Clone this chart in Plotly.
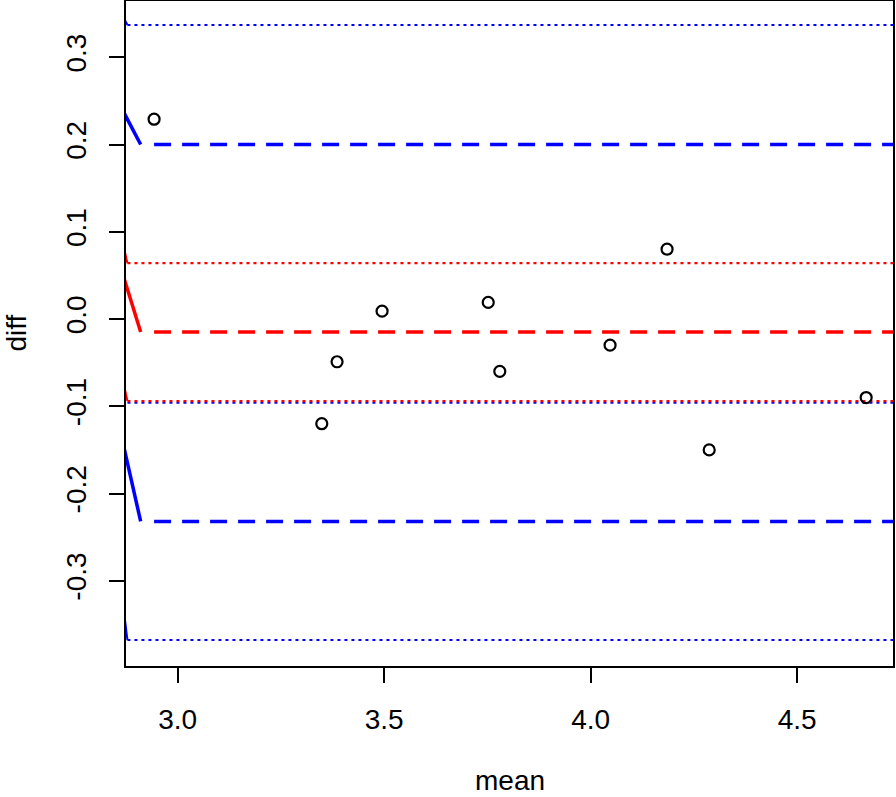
import plotly.graph_objects as go

# ---- data ----
mean_vals = [2.943, 3.349, 3.386, 3.495, 3.752, 3.780, 4.047, 4.185, 4.287, 4.667]
diff_vals = [0.229, -0.120, -0.049, 0.009, 0.019, -0.060, -0.030, 0.080, -0.150, -0.090]

# horizontal reference levels
blue_dashed_levels = [0.200, -0.232]          # limits of agreement
red_dashed_levels = [-0.015]                  # mean difference
blue_dotted_levels = [0.337, -0.096, -0.368]  # CIs of limits
red_dotted_levels = [0.064, -0.094]           # CI of mean difference

# short solid segments entering from the left (start x, start y, end x, end y)
seg_blue_x0 = [2.870, 2.870]
seg_blue_y0 = [0.2365, -0.147]
seg_blue_x1 = [2.9105, 2.9105]
seg_blue_y1 = [0.200, -0.232]
seg_red_x0 = [2.870]
seg_red_y0 = [0.047]
seg_red_x1 = [2.9105]
seg_red_y1 = [-0.015]

tiny_blue_x0 = [2.870, 2.870]
tiny_blue_y0 = [0.345, -0.335]
tiny_blue_x1 = [2.8785, 2.8785]
tiny_blue_y1 = [0.337, -0.368]
tiny_red_x0 = [2.870, 2.870]
tiny_red_y0 = [0.082, -0.075]
tiny_red_x1 = [2.8785, 2.8785]
tiny_red_y1 = [0.064, -0.094]

x_range = [2.875, 4.732]
y_range = [-0.3977, 0.3645]
x_ticks = [3.0, 3.5, 4.0, 4.5]
x_ticktext = ["3.0", "3.5", "4.0", "4.5"]
y_ticks = [-0.3, -0.2, -0.1, 0.0, 0.1, 0.2, 0.3]
y_ticktext = ["-0.3", "-0.2", "-0.1", "0.0", "0.1", "0.2", "0.3"]
x_title = "mean"
y_title = "diff"

BLUE = "#0000FF"
RED = "#FF0000"
X_END = 4.8
DOT_START = 2.8785

fig = go.Figure()

def hline(y, x0, color, dash, width):
    fig.add_trace(go.Scatter(x=[x0, X_END], y=[y, y], mode="lines",
                             line=dict(color=color, dash=dash, width=width),
                             hoverinfo="skip", showlegend=False))

for y in blue_dotted_levels:
    hline(y, DOT_START, BLUE, "3px,4px", 2)
for y in red_dotted_levels:
    hline(y, DOT_START, RED, "3px,4px", 2.2)
for y in blue_dashed_levels:
    hline(y, min(mean_vals), BLUE, "17px,11px", 3.5)
for y in red_dashed_levels:
    hline(y, min(mean_vals), RED, "17px,11px", 3.5)

def seg(x0s, y0s, x1s, y1s, color, width):
    for a, b, c, d in zip(x0s, y0s, x1s, y1s):
        fig.add_trace(go.Scatter(x=[a, c], y=[b, d], mode="lines",
                                 line=dict(color=color, width=width),
                                 hoverinfo="skip", showlegend=False))

seg(seg_blue_x0, seg_blue_y0, seg_blue_x1, seg_blue_y1, BLUE, 3.5)
seg(seg_red_x0, seg_red_y0, seg_red_x1, seg_red_y1, RED, 3.5)
seg(tiny_blue_x0, tiny_blue_y0, tiny_blue_x1, tiny_blue_y1, BLUE, 2)
seg(tiny_red_x0, tiny_red_y0, tiny_red_x1, tiny_red_y1, RED, 2)

fig.add_trace(go.Scatter(x=mean_vals, y=diff_vals, mode="markers",
                         marker=dict(symbol="circle-open", size=11, color="black",
                                     line=dict(color="black", width=2.2)),
                         showlegend=False))

FONT = "Liberation Sans, Arial, Helvetica, sans-serif"

fig.update_layout(
    width=896, height=797,
    margin=dict(l=126, r=3, t=1, b=131, autoexpand=False),
    paper_bgcolor="white", plot_bgcolor="white",
    font=dict(family=FONT, size=28, color="black"),
    xaxis=dict(range=x_range, tickvals=x_ticks, ticktext=x_ticktext,
               showgrid=False, zeroline=False, showline=True, mirror=True,
               linecolor="black", linewidth=2, ticks="outside", ticklen=15,
               tickwidth=2, tickcolor="black", ticklabelstandoff=12),
    yaxis=dict(range=y_range, tickvals=y_ticks, ticktext=y_ticktext,
               showgrid=False, zeroline=False, showline=True, mirror=True,
               linecolor="black", linewidth=2, ticks="outside", ticklen=15,
               tickwidth=2, tickcolor="black", tickangle=-90, ticklabelstandoff=12),
    annotations=[
        dict(text=x_title, xref="paper", yref="paper", x=0.5, y=0,
             xanchor="center", yanchor="middle", yshift=-114, showarrow=False,
             borderpad=0, font=dict(size=28)),
        dict(text=y_title, xref="paper", yref="paper", x=0, y=0.5,
             xanchor="center", yanchor="middle", xshift=-110, textangle=-90,
             borderpad=0, showarrow=False, font=dict(size=28)),
    ],
)

fig.write_html("out.html", config={"displayModeBar": False},
               post_script="document.body.style.margin='0';document.body.style.overflow='hidden';")
